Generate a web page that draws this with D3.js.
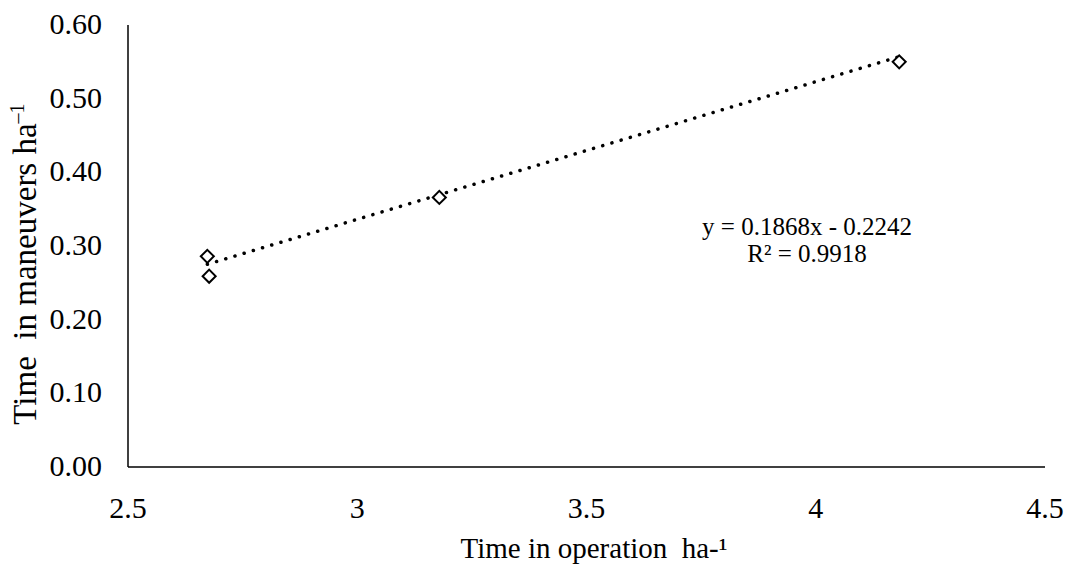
<!DOCTYPE html>
<html><head><meta charset="utf-8">
<script src="https://cdn.jsdelivr.net/npm/d3@7"></script>
<style>body{margin:0;background:#fff}svg{display:block}</style>
</head><body><svg id="c" width="1086" height="567"></svg>
<script>
const xValues = [2.673, 2.677, 3.179, 4.182];
const yValues = [0.286, 0.259, 0.366, 0.550];
const xTicks = [2.5, 3, 3.5, 4, 4.5];
const xTickLabels = ["2.5", "3", "3.5", "4", "4.5"];
const yTicks = [0, 0.1, 0.2, 0.3, 0.4, 0.5, 0.6];
const yTickLabels = ["0.00", "0.10", "0.20", "0.30", "0.40", "0.50", "0.60"];
const trendSlope = 0.1868, trendIntercept = -0.2242;
const equationLines = ["y = 0.1868x - 0.2242", "R² = 0.9918"];

const FONT = '"Liberation Serif"';
const svg = d3.select("#c");
const x = d3.scaleLinear().domain([2.5, 4.5]).range([128, 1045]);
const y = d3.scaleLinear().domain([0, 0.6]).range([467, 25]);

// axes
svg.append("line").attr("x1", x(2.5)).attr("x2", x(4.5)).attr("y1", y(0)).attr("y2", y(0)).attr("stroke", "#000").attr("stroke-width", 1.5);
svg.append("line").attr("x1", x(2.5)).attr("x2", x(2.5)).attr("y1", y(0)).attr("y2", y(0.6)).attr("stroke", "#000").attr("stroke-width", 1.5);

svg.selectAll(".xt").data(xTicks).enter().append("text")
  .style("font-family", FONT)
  .attr("x", d => x(d)).attr("y", 518).attr("text-anchor", "middle").attr("font-size", 30)
  .text((d, i) => xTickLabels[i]);
svg.selectAll(".yt").data(yTicks).enter().append("text")
  .style("font-family", FONT)
  .attr("x", 102).attr("y", d => y(d) + 9).attr("text-anchor", "end").attr("font-size", 30)
  .text((d, i) => yTickLabels[i]);

// axis titles
svg.append("text").style("font-family", FONT).attr("x", 594).attr("y", 558).attr("text-anchor", "middle").attr("font-size", 29)
  .text("Time in operation\u00a0 ha-¹");
const yl = svg.append("text").style("font-family", FONT).attr("transform", "translate(36,264) rotate(-90)").attr("text-anchor", "middle").attr("font-size", 33);
yl.append("tspan").text("Time\u00a0 in maneuvers ha");
yl.append("tspan").attr("font-size", 20).attr("dy", -12).text("–1");

// trendline
const [xmin, xmax] = d3.extent(xValues);
svg.append("line")
  .attr("x1", x(xmin)).attr("y1", y(trendSlope * xmin + trendIntercept))
  .attr("x2", x(xmax)).attr("y2", y(trendSlope * xmax + trendIntercept))
  .attr("stroke", "#000").attr("stroke-width", 3.5).attr("stroke-linecap", "round")
  .attr("stroke-dasharray", "0.1,9.5");

// markers
const sym = d3.symbol().type(d3.symbolSquare).size(85);
svg.selectAll(".pt").data(xValues).enter().append("path")
  .attr("d", sym)
  .attr("transform", (d, i) => `translate(${x(d)},${y(yValues[i])}) rotate(45)`)
  .attr("fill", "#fff").attr("stroke", "#000").attr("stroke-width", 2);

// equation
svg.selectAll(".eq").data(equationLines).enter().append("text")
  .style("font-family", FONT)
  .attr("x", 807).attr("y", (d, i) => 235 + i * 27).attr("text-anchor", "middle").attr("font-size", 25)
  .text(d => d);
</script></body></html>
